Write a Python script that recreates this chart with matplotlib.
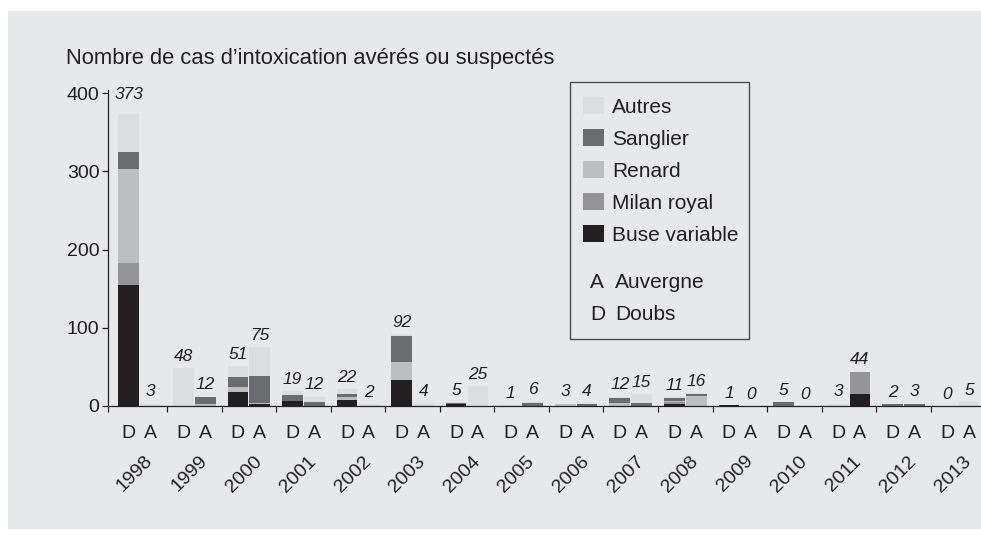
import matplotlib
matplotlib.use("Agg")
import matplotlib.pyplot as plt
from matplotlib.patches import Rectangle, Patch
from matplotlib.transforms import blended_transform_factory
import numpy as np

plt.rcParams['font.family'] = ['Liberation Sans', 'DejaVu Sans']

years = [1998, 1999, 2000, 2001, 2002, 2003, 2004, 2005, 2006, 2007,
         2008, 2009, 2010, 2011, 2012, 2013]
series_names = ["Buse variable", "Milan royal", "Renard", "Sanglier", "Autres"]
series_colors = ["#231f20", "#959598", "#bdbec0", "#6b6c6f", "#dcddde"]

# Doubs (D)
D_buse     = [155, 0, 18, 7, 8, 33, 2, 0, 0, 0, 3, 1, 0, 0, 0, 0]
D_milan    = [28, 0, 0, 0, 0, 0, 0, 0, 0, 0, 2, 0, 0, 0, 0, 0]
D_renard   = [120, 0, 6, 0, 3, 23, 0, 0, 3, 4, 2, 0, 0, 0, 0, 0]
D_sanglier = [22, 0, 13, 7, 4, 34, 2, 0, 0, 6, 3, 0, 5, 0, 2, 0]
D_autres   = [48, 48, 14, 5, 7, 2, 1, 1, 0, 2, 1, 0, 0, 3, 0, 0]

# Auvergne (A)
A_buse     = [0, 0, 2, 0, 0, 0, 0, 0, 0, 0, 0, 0, 0, 15, 0, 0]
A_milan    = [0, 0, 0, 0, 0, 0, 0, 0, 0, 0, 0, 0, 0, 29, 0, 0]
A_renard   = [0, 3, 2, 0, 0, 0, 0, 0, 0, 0, 13, 0, 0, 0, 0, 0]
A_sanglier = [0, 9, 34, 5, 0, 0, 0, 4, 2, 4, 2, 0, 0, 0, 3, 0]
A_autres   = [3, 0, 37, 7, 2, 4, 25, 2, 2, 11, 1, 0, 0, 0, 0, 5]

D_series = [D_buse, D_milan, D_renard, D_sanglier, D_autres]
A_series = [A_buse, A_milan, A_renard, A_sanglier, A_autres]

W, H = 981, 537
fig = plt.figure(figsize=(W / 100, H / 100), dpi=100, facecolor="white")

# grey panel
fig.patches.append(Rectangle((8 / W, 8 / H), (W - 8) / W, (537 - 11 - 8) / H,
                             transform=fig.transFigure, facecolor="#e7e8e9",
                             edgecolor="none", zorder=-10))

ax_left, ax_right, ax_top, ax_bottom = 107.7, 981, 90, 406
ax = fig.add_axes([ax_left / W, (H - ax_bottom) / H,
                   (ax_right - ax_left) / W, (ax_bottom - ax_top) / H])
ax.patch.set_alpha(0)
ax.set_zorder(1)

x = np.arange(len(years))
width = 0.38
off = 0.2

for ser_list, shift in ((D_series, -off), (A_series, off)):
    bottom = np.zeros(len(years))
    for vals, col in zip(ser_list, series_colors):
        v = np.array(vals, dtype=float)
        ax.bar(x + shift, v, width=width, bottom=bottom, color=col,
               linewidth=0, zorder=2)
        bottom += v
    totals = bottom
    for xi, t in zip(x + shift, totals):
        extra = 9 if t > 300 else 3
        ax.annotate(f"{int(t)}", (xi, t), xytext=(0, extra),
                    textcoords="offset points", ha="center", va="bottom",
                    fontstyle="italic", fontsize=12.5, color="#231f20")

ax.set_ylim(0, 404)
ax.set_xlim(-0.586, 15.42)
ax.set_yticks([0, 100, 200, 300, 400])
ax.tick_params(axis="y", length=4, width=0.9, labelsize=14, pad=2,
               colors="#231f20")

# D / A labels as major ticks, group boundaries as minor ticks
pos = np.sort(np.concatenate([x - off, x + off]))
ax.set_xticks(pos)
ax.set_xticklabels(["D", "A"] * len(years))
ax.tick_params(axis="x", which="major", length=0, labelsize=14, pad=14,
               colors="#231f20")
ax.set_xticks(np.concatenate([[-0.586], x[:-1] + 0.5]), minor=True)
ax.tick_params(axis="x", which="minor", length=4, width=0.9, colors="#231f20")

for s in ("top", "right"):
    ax.spines[s].set_visible(False)
for s in ("left", "bottom"):
    ax.spines[s].set_color("#231f20")
    ax.spines[s].set_linewidth(0.9)

trans = blended_transform_factory(ax.transData, ax.transAxes)
for xi, yr in zip(x, years):
    ax.text(xi - 0.09, -0.215, str(yr), transform=trans, rotation=45,
            ha="center", va="center", fontsize=14, color="#231f20")

# title
fig.text(66 / W, (H - 64) / H, "Nombre de cas d\u2019intoxication avérés ou suspectés",
         ha="left", va="baseline", fontsize=15.8, color="#231f20")

# legend
handles = [Patch(facecolor=c, edgecolor="none", label=n)
           for n, c in zip(series_names, series_colors)][::-1]
leg = fig.legend(handles=handles, loc="upper left",
                 bbox_to_anchor=(583 / W, (H - 97) / H),
                 bbox_transform=fig.transFigure, frameon=False, fontsize=15,
                 handlelength=1.0, handleheight=0.91, handletextpad=0.38,
                 labelspacing=0.58, borderpad=0, borderaxespad=0)
for t in leg.get_texts():
    t.set_color("#231f20")

fig.patches.append(Rectangle((570 / W, (H - 339) / H), 179 / W, 257 / H,
                             transform=fig.transFigure, fill=False,
                             edgecolor="#4a4a4a", linewidth=1.0, zorder=3))
for letter, name, yc in (("A", "Auvergne", 282.5), ("D", "Doubs", 314.7)):
    fig.text(590 / W, (H - yc) / H, letter, ha="left", va="center",
             fontsize=15, color="#231f20")
    fig.text(615 / W, (H - yc) / H, name, ha="left", va="center",
             fontsize=15, color="#231f20")

fig.savefig("out.png", dpi=100, facecolor="white")
